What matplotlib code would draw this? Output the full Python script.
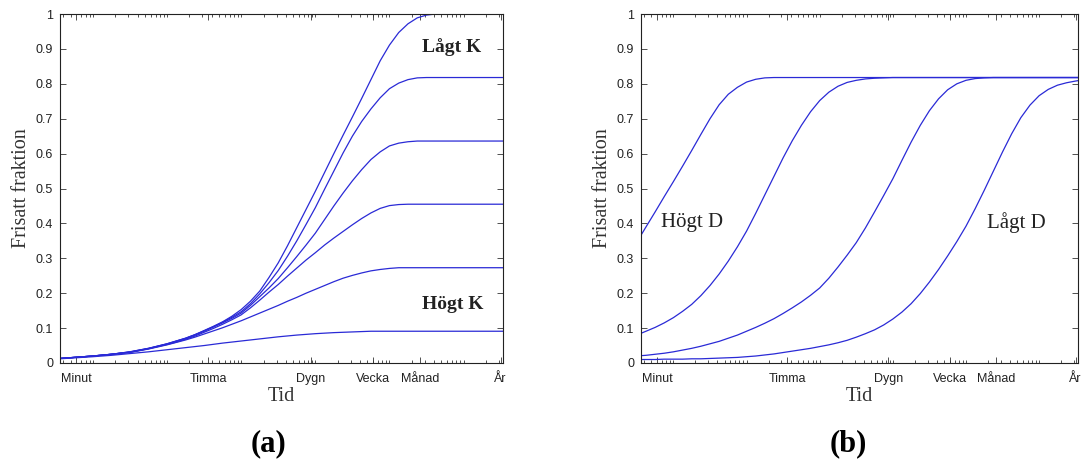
import matplotlib
matplotlib.use('Agg')
import matplotlib.pyplot as plt
from matplotlib.ticker import FixedLocator, FixedFormatter, LogLocator, NullFormatter

# sample times, given as log10(seconds)
log_t_a = [1.556, 2.0, 2.25, 2.5, 2.75, 3.0, 3.125, 3.25, 3.375, 3.5, 3.625, 3.75, 3.875,
           4.0, 4.125, 4.25, 4.375, 4.5, 4.625, 4.75, 4.875, 5.0, 5.125, 5.25, 5.375,
           5.5, 5.625, 5.75, 5.875, 6.0, 6.125, 6.25, 6.375, 6.5, 6.625, 6.75, 7.0, 7.53]

# panel (a): released fraction for different K (low K on top)
k1 = [.013, .020, .025, .032, .042, .055, .063, .071, .081, .093, .105, .118, .134,
      .153, .177, .206, .245, .287, .336, .388, .440, .492, .546, .600, .653,
      .705, .758, .812, .866, .911, .947, .972, .989, .997, 1.0, 1.0, 1.0, 1.0]
k2 = [.013, .020, .025, .032, .042, .055, .063, .071, .081, .092, .104, .117, .131,
      .147, .170, .198, .230, .265, .306, .350, .397, .445, .498, .550, .602,
      .650, .692, .728, .760, .786, .802, .812, .817, .818, .818, .818, .818, .818]
k3 = [.013, .020, .025, .031, .041, .054, .062, .070, .080, .091, .103, .115, .128,
      .143, .165, .190, .215, .242, .273, .305, .338, .372, .411, .450, .487,
      .522, .554, .583, .605, .622, .630, .634, .636, .636, .636, .636, .636, .636]
k4 = [.013, .020, .025, .031, .041, .053, .060, .068, .077, .088, .099, .111, .124,
      .138, .158, .180, .203, .225, .249, .272, .295, .316, .338, .358, .377,
      .396, .414, .430, .443, .451, .454, .455, .455, .455, .455, .455, .455, .455]
k5 = [.013, .020, .025, .030, .040, .052, .059, .066, .074, .083, .092, .101, .111,
      .121, .132, .143, .154, .165, .177, .188, .200, .211, .222, .233, .243,
      .251, .258, .264, .268, .271, .273, .273, .273, .273, .273, .273, .273, .273]
k6 = [.012, .018, .022, .027, .032, .038, .041, .044, .047, .050, .0535, .057, .060,
      .063, .066, .069, .072, .075, .0775, .080, .082, .084, .0855, .087, .088,
      .089, .090, .091, .091, .091, .091, .091, .091, .091, .091, .091, .091, .091]

log_t_b = [1.556, 1.625, 1.75, 1.875, 2.0, 2.125, 2.25, 2.375, 2.5, 2.625, 2.75, 2.875,
           3.0, 3.125, 3.25, 3.375, 3.5, 3.625, 3.75, 3.875, 4.0, 4.125, 4.25, 4.375,
           4.5, 4.625, 4.75, 4.875, 5.0, 5.125, 5.25, 5.375, 5.5, 5.625, 5.75, 5.875,
           6.0, 6.125, 6.25, 6.375, 6.5, 6.625, 6.75, 6.875, 7.0, 7.125, 7.25, 7.375,
           7.5, 7.53]

# panel (b): released fraction for different D (high D on the left)
d1 = [.366, .390, .433, .477, .520, .564, .609, .655, .700, .740, .770, .790,
      .805, .813, .817, .818, .818, .818, .818, .818, .818, .818, .818, .818,
      .818, .818, .818, .818, .818, .818, .818, .818, .818, .818, .818, .818,
      .818, .818, .818, .818, .818, .818, .818, .818, .818, .818, .818, .818,
      .818, .818]
d2 = [.085, .091, .102, .115, .130, .148, .168, .193, .222, .255, .292, .333,
      .378, .429, .482, .535, .588, .637, .681, .720, .752, .776, .793, .804,
      .810, .814, .816, .817, .818, .818, .818, .818, .818, .818, .818, .818,
      .818, .818, .818, .818, .818, .818, .818, .818, .818, .818, .818, .818,
      .818, .818]
d3 = [.021, .022, .025, .028, .032, .037, .042, .048, .055, .062, .071, .080,
      .091, .102, .114, .127, .142, .158, .175, .194, .215, .243, .275, .309,
      .345, .387, .433, .480, .528, .581, .633, .681, .723, .757, .783, .800,
      .810, .815, .817, .818, .818, .818, .818, .818, .818, .818, .818, .818,
      .818, .818]
d4 = [.010, .010, .010, .011, .011, .011, .012, .012, .013, .014, .015, .016,
      .018, .020, .023, .026, .030, .034, .038, .042, .047, .052, .058, .065,
      .074, .084, .095, .109, .126, .146, .170, .199, .232, .268, .307, .348,
      .392, .442, .495, .550, .605, .657, .703, .739, .766, .784, .796, .803,
      .808, .809]

tick_times = [60, 3600, 86400, 604800, 2592000, 31536000]
tick_names = ['Minut', 'Timma', 'Dygn', 'Vecka', 'Månad', 'År']
y_ticks = [0, 0.1, 0.2, 0.3, 0.4, 0.5, 0.6, 0.7, 0.8, 0.9, 1]
y_names = ['0', '0.1', '0.2', '0.3', '0.4', '0.5', '0.6', '0.7', '0.8', '0.9', '1']

t_a = [10 ** v for v in log_t_a]
t_b = [10 ** v for v in log_t_b]

line_color = '#2a2ad6'
serif = 'Liberation Serif'
sans = 'Liberation Sans'


def style_axes(ax):
    ax.set_xscale('log')
    ax.set_xlim(36, 3.4e7)
    ax.set_ylim(0, 1)
    ax.xaxis.set_major_locator(FixedLocator(tick_times))
    ax.xaxis.set_major_formatter(FixedFormatter(tick_names))
    ax.xaxis.set_minor_locator(LogLocator(base=10, subs=range(1, 10), numticks=20))
    ax.xaxis.set_minor_formatter(NullFormatter())
    ax.set_yticks(y_ticks)
    ax.set_yticklabels(y_names)
    ax.tick_params(which='both', direction='in', top=True, right=True, width=0.6, color='#333333')
    ax.tick_params(which='major', length=4)
    ax.tick_params(which='minor', length=2)
    ax.tick_params(axis='x', pad=7)
    ax.tick_params(axis='y', pad=5)
    for lab in ax.get_xticklabels() + ax.get_yticklabels():
        lab.set_fontfamily(sans)
        lab.set_fontsize(9)
        lab.set_color('#222222')
    for s in ax.spines.values():
        s.set_linewidth(0.8)
        s.set_color('#222222')
    ax.set_ylabel('Frisatt fraktion', fontfamily=serif, fontsize=14.5, color='#333333')
    ax.yaxis.set_label_coords(-0.066, 0.5)
    ax.set_xlabel('Tid', fontfamily=serif, fontsize=14.5, color='#333333')
    ax.xaxis.set_label_coords(0.5, -0.068)


fig = plt.figure(figsize=(10.89, 4.61), dpi=100)
ax1 = fig.add_axes([0.0551, 0.2126, 0.4068, 0.757])
ax2 = fig.add_axes([0.5886, 0.2126, 0.4013, 0.757])

for y in [k1, k2, k3, k4, k5, k6]:
    ax1.plot(t_a, y, color=line_color, lw=0.9)
for y in [d1, d2, d3, d4]:
    ax2.plot(t_b, y, color=line_color, lw=0.9)

style_axes(ax1)
style_axes(ax2)

ax1.text(0.885, 0.905, 'Lågt K', transform=ax1.transAxes, ha='center', va='center',
         fontfamily=serif, fontsize=14, fontweight='bold', color='#222222')
ax1.text(0.887, 0.168, 'Högt K', transform=ax1.transAxes, ha='center', va='center',
         fontfamily=serif, fontsize=14, fontweight='bold', color='#222222')
ax2.text(0.118, 0.403, 'Högt D', transform=ax2.transAxes, ha='center', va='center',
         fontfamily=serif, fontsize=15, color='#222222')
ax2.text(0.858, 0.403, 'Lågt D', transform=ax2.transAxes, ha='center', va='center',
         fontfamily=serif, fontsize=15, color='#222222')

fig.text(269 / 1089, 1 - 444 / 461, '(a)', ha='center', va='center',
         fontfamily=serif, fontsize=22, fontweight='bold')
fig.text(848 / 1089, 1 - 444 / 461, '(b)', ha='center', va='center',
         fontfamily=serif, fontsize=22, fontweight='bold')

fig.savefig('out.png', dpi=100)
